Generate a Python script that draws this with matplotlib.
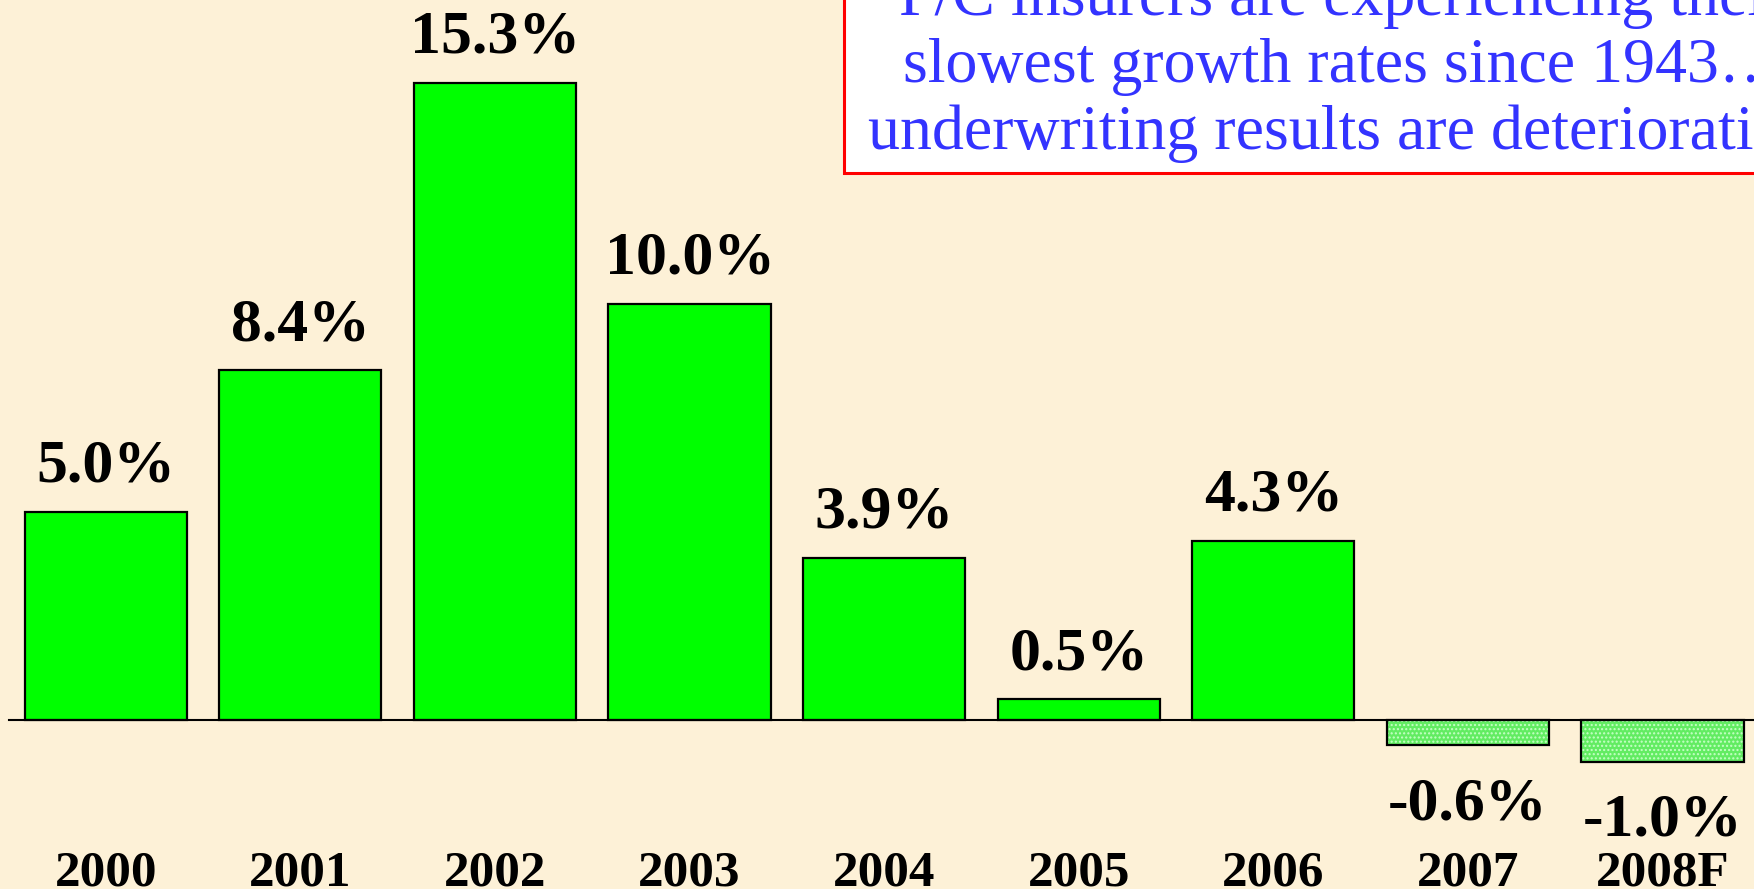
import matplotlib
matplotlib.use("Agg")
import matplotlib.pyplot as plt
from matplotlib.patches import Rectangle

years = ["2000", "2001", "2002", "2003", "2004", "2005", "2006", "2007", "2008F"]
growth = [5.0, 8.4, 15.3, 10.0, 3.9, 0.5, 4.3, -0.6, -1.0]
note_lines = ["P/C insurers are experiencing their",
              "slowest growth rates since 1943\u2026",
              "underwriting results are deteriorating"]

W, H = 1754, 889
bg = "#FDF1D7"
serif = ["Liberation Serif", "DejaVu Serif"]

fig = plt.figure(figsize=(W / 100, H / 100), dpi=100, facecolor=bg)
ax = fig.add_axes([0, 0, 1, 1])
ax.set_facecolor(bg)

# pixel layout: first bar centred at 105.7px, 194.6px pitch, baseline at 720px, 41.65px per point
pitch, x0, base, ppu = 194.6, 105.7, 720, 41.65
ax.set_xlim(-x0 / pitch, (W - x0) / pitch)
ax.set_ylim(-(H - base) / ppu, base / ppu)
ax.axis("off")

xs = list(range(len(years)))
pos = [(x, v) for x, v in zip(xs, growth) if v >= 0]
neg = [(x, v) for x, v in zip(xs, growth) if v < 0]

ax.bar([p[0] for p in pos], [p[1] for p in pos], width=0.833,
       color="#00FF00", edgecolor="black", linewidth=1.6, zorder=2)

# negative years drawn with a light dotted fill
plt.rcParams["hatch.linewidth"] = 1.0
ax.bar([n[0] for n in neg], [n[1] for n in neg], width=0.833,
       color="#62EC62", edgecolor="#C6FFC6", linewidth=0, hatch="....", zorder=2)
ax.bar([n[0] for n in neg], [n[1] for n in neg], width=0.833,
       fill=False, edgecolor="black", linewidth=1.6, zorder=3)

ax.axhline(0, xmin=9 / W, xmax=1, color="black", linewidth=1.5, zorder=4)

for x, v in zip(xs, growth):
    off = 21.6 if v >= 0 else -53.3
    ax.annotate(f"{v:.1f}%", (x, v), xytext=(0, off), textcoords="offset points",
                ha="center", va="baseline", fontsize=44.5, fontweight="bold",
                family=serif, color="black")
    ax.annotate(years[x], (x, 0), xytext=(0, -119.5), textcoords="offset points",
                ha="center", va="baseline", fontsize=36.8, fontweight="bold",
                family=serif, color="black")

# callout box in the top right corner
box = Rectangle((844 / W, 1 - 173 / H), 1.0, 1.0, transform=fig.transFigure,
                facecolor="white", edgecolor="red", linewidth=2.2, zorder=5)
fig.patches.append(box)

renderer = fig.canvas.get_renderer()
last = fig.text(868 / W, 1 - 149 / H, note_lines[2], ha="left", va="baseline",
                fontsize=46, family=serif, color="#3333FF", zorder=6)
bb = last.get_window_extent(renderer)
cx = (bb.x0 + bb.x1) / 2 / W
for line, yb in zip(note_lines[:2], [15, 82]):
    fig.text(cx, 1 - yb / H, line, ha="center", va="baseline",
             fontsize=46, family=serif, color="#3333FF", zorder=6)

fig.savefig("out.png", dpi=100, facecolor=bg)
